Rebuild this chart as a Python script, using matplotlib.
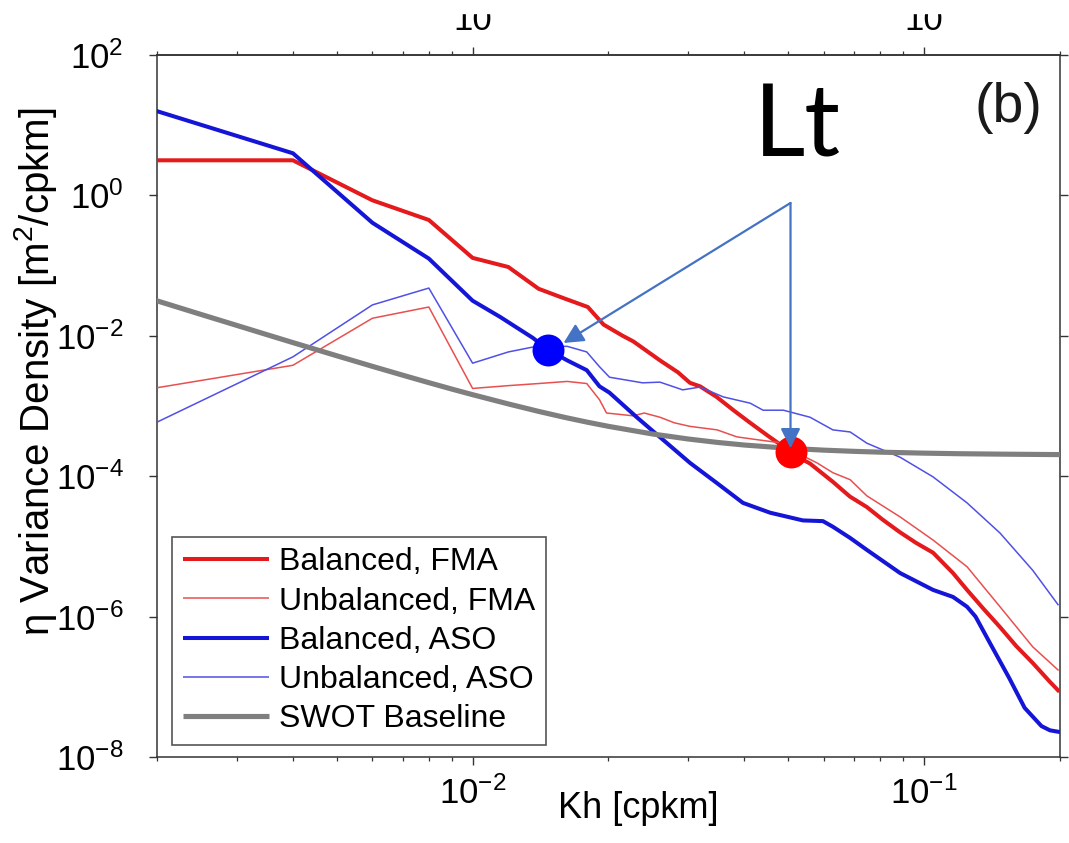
import numpy as np
import matplotlib
matplotlib.use("Agg")
import matplotlib.pyplot as plt
from matplotlib.ticker import NullLocator, NullFormatter, FixedLocator, FixedFormatter
from matplotlib.patches import Rectangle

# ---------------------------------------------------------------------------
# Sea-surface-height (eta) variance density spectra, m^2/cpkm, vs Kh in cpkm.
# Spectra are listed as log10 of the variance density.
# ---------------------------------------------------------------------------
k_bal_fma = [0.002, 0.004, 0.006, 0.008, 0.010, 0.012, 0.014, 0.016, 0.018,
             0.0195, 0.0215, 0.0227, 0.026, 0.0285, 0.0303, 0.0319, 0.0347,
             0.038, 0.0412, 0.045, 0.0488, 0.053, 0.0559, 0.0628, 0.0685,
             0.0747, 0.081, 0.0885, 0.096, 0.1047, 0.1159, 0.1245, 0.135,
             0.1473, 0.160, 0.174, 0.190, 0.198]
lg_bal_fma = [0.50, 0.50, -0.07, -0.35, -0.89, -1.02, -1.33, -1.47, -1.59,
              -1.84, -2.00, -2.08, -2.35, -2.52, -2.67, -2.72, -2.87,
              -3.07, -3.24, -3.42, -3.58, -3.74, -3.82, -4.08, -4.29,
              -4.44, -4.62, -4.80, -4.95, -5.09, -5.38, -5.62, -5.88,
              -6.15, -6.42, -6.66, -6.93, -7.05]

k_unb_fma = [0.002, 0.004, 0.006, 0.008, 0.010, 0.012, 0.014, 0.0162, 0.0179,
             0.0191, 0.0198, 0.0227, 0.024, 0.026, 0.028, 0.0303, 0.0348,
             0.0385, 0.0427, 0.0488, 0.0505, 0.0579, 0.0628, 0.0686, 0.0747,
             0.0885, 0.1047, 0.1245, 0.1473, 0.174, 0.198]
lg_unb_fma = [-2.74, -2.42, -1.75, -1.59, -2.75, -2.71, -2.68, -2.65, -2.68,
              -2.91, -3.10, -3.14, -3.10, -3.16, -3.24, -3.29, -3.34,
              -3.44, -3.48, -3.53, -3.62, -3.81, -3.95, -4.05, -4.28,
              -4.58, -4.91, -5.29, -5.86, -6.43, -6.76]

k_bal_aso = [0.002, 0.004, 0.006, 0.008, 0.010, 0.0115, 0.0136, 0.0147,
             0.0162, 0.0179, 0.0191, 0.0201, 0.0231, 0.0264, 0.0303, 0.0348,
             0.0397, 0.0456, 0.0539, 0.0597, 0.0628, 0.0686, 0.0747, 0.0885,
             0.1047, 0.1159, 0.1245, 0.130, 0.140, 0.1545, 0.167, 0.182,
             0.190, 0.198]
lg_bal_aso = [1.20, 0.60, -0.39, -0.90, -1.50, -1.73, -2.03, -2.20,
              -2.35, -2.49, -2.72, -2.81, -3.16, -3.48, -3.81, -4.10,
              -4.38, -4.52, -4.63, -4.64, -4.72, -4.88, -5.05, -5.38,
              -5.62, -5.72, -5.86, -6.00, -6.38, -6.88, -7.30, -7.56,
              -7.62, -7.64]

k_unb_aso = [0.002, 0.004, 0.006, 0.008, 0.010, 0.012, 0.0136, 0.0162,
             0.0179, 0.0191, 0.0201, 0.0238, 0.026, 0.0292, 0.0319, 0.0359,
             0.0412, 0.044, 0.0488, 0.0559, 0.0628, 0.0686, 0.0747, 0.0885,
             0.1047, 0.1245, 0.1473, 0.174, 0.198]
lg_unb_aso = [-3.23, -2.30, -1.56, -1.32, -2.39, -2.23, -2.16, -2.15,
              -2.23, -2.44, -2.59, -2.67, -2.66, -2.77, -2.73, -2.87,
              -2.96, -3.06, -3.06, -3.16, -3.34, -3.37, -3.53, -3.73,
              -4.01, -4.38, -4.81, -5.34, -5.83]

# SWOT baseline noise requirement (m^2/cpkm)
k_swot = [0.002, 0.0025, 0.003, 0.0035, 0.004, 0.005, 0.006, 0.007, 0.008,
          0.009, 0.010, 0.012, 0.014, 0.016, 0.018, 0.020, 0.025, 0.030,
          0.035, 0.040, 0.050, 0.060, 0.070, 0.080, 0.100, 0.120, 0.150,
          0.200]
swot = [3.15e-2, 2.02e-2, 1.41e-2, 1.04e-2, 8.0e-3, 5.2e-3, 3.67e-3,
        2.75e-3, 2.15e-3, 1.74e-3, 1.45e-3, 1.07e-3, 8.38e-4, 6.88e-4,
        5.86e-4, 5.13e-4, 4.0e-4, 3.39e-4, 3.02e-4, 2.78e-4, 2.50e-4,
        2.35e-4, 2.26e-4, 2.20e-4, 2.13e-4, 2.09e-4, 2.06e-4, 2.03e-4]

# y-axis decades that carry a tick and label
y_ticks = [1e-8, 1e-6, 1e-4, 1e-2, 1e0, 1e2]

# upper axis: labelled decades
top_ticks = [0.01, 0.1]
top_labels = ["10", "10"]

# transition scales Lt (balanced spectrum meets unbalanced / SWOT floor)
lt_k = [0.0147, 0.0506]
lt_val = [6.3e-3, 2.2e-4]
lt_colors = ["#0000ff", "#ff0000"]

series = [
    ("Balanced, FMA", k_bal_fma, lg_bal_fma, "#e41a1c", 2.9),
    ("Unbalanced, FMA", k_unb_fma, lg_unb_fma, "#e8504f", 1.1),
    ("Balanced, ASO", k_bal_aso, lg_bal_aso, "#1515d8", 2.9),
    ("Unbalanced, ASO", k_unb_aso, lg_unb_aso, "#5050e6", 1.1),
]

plt.rcParams["font.family"] = ["Liberation Sans", "DejaVu Sans"]
plt.rcParams["mathtext.fontset"] = "custom"
plt.rcParams["mathtext.rm"] = "Liberation Sans"
plt.rcParams["mathtext.it"] = "Liberation Sans:italic"
plt.rcParams["mathtext.default"] = "regular"

W, H = 1069, 843
fig = plt.figure(figsize=(W / 100, H / 100), dpi=100)
ax = fig.add_axes([157 / W, 1 - 757 / H, 903 / W, 702 / H])

for label, k, lg, color, lw in series:
    ax.plot(k, 10 ** np.asarray(lg), color=color, lw=lw, label=label,
            solid_joinstyle="round", zorder=3)
ax.plot(k_swot, swot, color="#7f7f7f", lw=3.7, label="SWOT Baseline", zorder=3)

for kk, vv, cc in zip(lt_k, lt_val, lt_colors):
    ax.plot([kk], [vv], "o", ms=23, color=cc, mec="none", zorder=5)

ax.set_xscale("log")
ax.set_yscale("log")
ax.set_xlim(0.002, 0.2)
ax.set_ylim(1e-8, 1e2)

ax.yaxis.set_major_locator(FixedLocator(y_ticks))
ax.yaxis.set_minor_locator(NullLocator())
ax.xaxis.set_minor_formatter(NullFormatter())

for sp in ax.spines.values():
    sp.set_linewidth(1.1)
    sp.set_color("#333333")

ax.tick_params(axis="both", which="major", direction="out", length=6,
               width=1.0, labelsize=25, color="#333333")
ax.tick_params(axis="x", which="minor", direction="out", length=3, width=0.9,
               color="#333333")
ax.tick_params(axis="x", which="both", top=False, pad=8)
ax.tick_params(axis="y", which="both", right=True, pad=18)

# duplicate wavenumber axis along the top
sec = ax.secondary_xaxis("top")
sec.xaxis.set_major_locator(FixedLocator(top_ticks))
sec.xaxis.set_major_formatter(FixedFormatter(top_labels))
sec.xaxis.set_minor_formatter(NullFormatter())
sec.tick_params(axis="x", which="major", direction="out", length=6, width=1.0,
                labelsize=25, pad=7, color="#333333")
sec.tick_params(axis="x", which="minor", direction="out", length=3, width=0.9,
                color="#333333")
sec.spines["top"].set_linewidth(1.1)
sec.spines["top"].set_color("#333333")

leg = ax.legend(loc="lower left", bbox_to_anchor=(0.0166, 0.0171),
                borderaxespad=0, fontsize=23, frameon=True, fancybox=False,
                framealpha=1, edgecolor="#555555", handlelength=2.7,
                handletextpad=0.33, labelspacing=0.29, borderpad=0.33)
leg.get_frame().set_linewidth(1.2)
for line in leg.get_lines():
    line.set_solid_capstyle("butt")

# annotation: arrows from the label to both transition points
apex = (0.0506, 0.78)
arrow_kw = dict(arrowstyle="-|>", color="#4472c4", lw=1.6,
                mutation_scale=30, shrinkA=0, shrinkB=0)
ax.annotate("", xy=(0.0159, 7.9e-3), xytext=apex, arrowprops=arrow_kw,
            zorder=6)
ax.annotate("", xy=(0.0506, 2.5e-4), xytext=apex, arrowprops=arrow_kw,
            zorder=6)

ax.text(0.661, 0.855, "Lt", transform=ax.transAxes, fontsize=72,
        family="Lato", ha="left", va="baseline", color="black", zorder=7)
ax.text(0.980, 0.924, "(b)", transform=ax.transAxes, fontsize=40,
        ha="right", va="center", color="#1a1a1a")

fig.text(36 / W, 1 - 372 / H, r"η Variance Density [m$^{2}$/cpkm]",
         rotation=90, ha="center", va="center", fontsize=29)
fig.text(638 / W, 1 - 808 / H, "Kh [cpkm]", ha="center", va="center",
         fontsize=26)

# blank strip along the very top edge, trimming the upper tick labels
fig.patches.append(Rectangle((0, 1 - 13 / H), 1, 13 / H,
                             transform=fig.transFigure, color="white",
                             zorder=20))

fig.savefig("out.png", dpi=100)
